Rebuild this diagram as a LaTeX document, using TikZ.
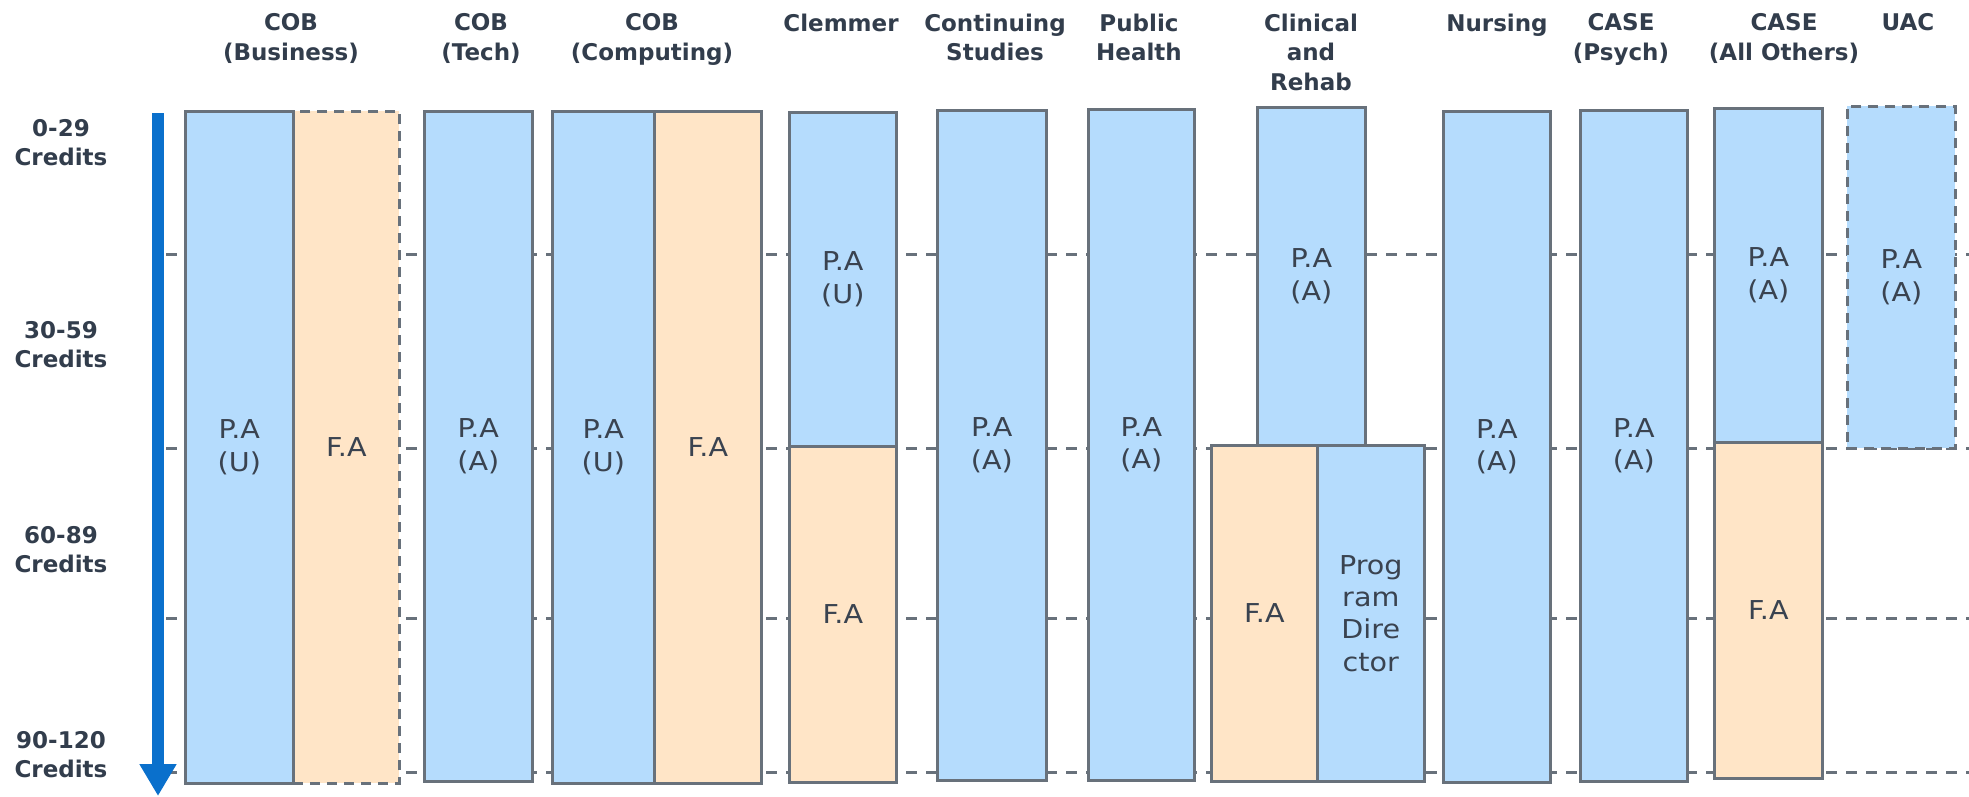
\documentclass[tikz,border=0pt]{standalone}
\usepackage{fontspec}
\setmainfont{DejaVu Sans}
\newfontfamily\cellfont[FakeStretch=1.1]{DejaVu Sans}
\usetikzlibrary{arrows.meta}

\definecolor{paBlue}{HTML}{B5DCFD}
\definecolor{faOrange}{HTML}{FFE5C7}
\definecolor{edgeGray}{HTML}{68717B}
\definecolor{inkDark}{HTML}{323D4C}
\definecolor{cellInk}{HTML}{3A4350}
\definecolor{flowBlue}{HTML}{0A70CC}

\tikzset{
  cell/.style={draw=edgeGray, line width=2.6pt, inner sep=0pt, anchor=north west,
    align=center, text=cellInk, font=\cellfont\fontsize{26}{32.3}\selectfont},
  pacell/.style={cell, fill=paBlue},
  facell/.style={cell, fill=faOrange},
  optcell/.style={dash pattern=on 10pt off 7pt},
  head/.style={anchor=north, align=center, inner sep=0pt, text=inkDark,
    font=\fontsize{23}{29.5}\selectfont\bfseries},
  rowlabel/.style={head, font=\fontsize{23}{28.5}\selectfont\bfseries},
  rowline/.style={draw=edgeGray, line width=3pt,
    dash pattern=on 10.5pt off 9.5pt, dash phase=14pt},
  flow/.style={draw=flowBlue, line width=12pt,
    -{Triangle[width=35pt,length=32pt]}, color=flowBlue},
}

\begin{document}
\begin{tikzpicture}[x=1pt, y=-1pt]
\useasboundingbox (0,0) rectangle (1969,796);

% credit band separators
\foreach \yy/\nm in {254/a, 448/b, 618/c, 772/d}{
  \coordinate (\nm L) at (160,\yy);
  \coordinate (\nm R) at (1969,\yy);
  \draw[rowline] (\nm L) -- (\nm R);
}

% progression arrow
\coordinate (flowTop) at (158,113);
\coordinate (flowEnd) at (158,796);
\draw[flow] (flowTop) -- (flowEnd);

% row labels
\node[rowlabel] (r1) at (61,119.6) {0-29\\Credits};
\node[rowlabel] (r2) at (61,321.6) {30-59\\Credits};
\node[rowlabel] (r3) at (61,526.6) {60-89\\Credits};
\node[rowlabel] (r4) at (61,731.6) {90-120\\Credits};

% column headers
\node[head] (hBus)   at (291,13.5)  {COB\\(Business)};
\node[head] (hTech)  at (481,13.5)  {COB\\(Tech)};
\node[head] (hComp)  at (652,13.5)  {COB\\(Computing)};
\node[head] (hClem)  at (841,13.5)  {Clemmer};
\node[head] (hCont)  at (995,13.5)  {Continuing\\Studies};
\node[head] (hPub)   at (1139,13.5) {Public\\Health};
\node[head] (hClin)  at (1311,13.5) {Clinical\\and\\Rehab};
\node[head] (hNurs)  at (1497,13.5) {Nursing};
\node[head] (hPsych) at (1621,13.5) {CASE\\(Psych)};
\node[head] (hCase)  at (1784,13.5) {CASE\\(All Others)};
\node[head] (hUAC)   at (1908,13.5) {UAC};

% COB (Business)
\node[facell, optcell, minimum width=106pt, minimum height=672pt] (busFA) at (292,110) {F.A};
\node[pacell, minimum width=108pt, minimum height=672pt] (busPA) at (184,110) {P.A\\(U)};
% COB (Tech)
\node[pacell, minimum width=108pt, minimum height=670pt] (techPA) at (423,110) {P.A\\(A)};
% COB (Computing)
\node[pacell, minimum width=102pt, minimum height=672pt] (compPA) at (551,110) {P.A\\(U)};
\node[facell, minimum width=107pt, minimum height=672pt] (compFA) at (653,110) {F.A};
% Clemmer
\node[pacell, minimum width=107pt, minimum height=334pt] (clemPA) at (788,111) {P.A\\(U)};
\node[facell, minimum width=107pt, minimum height=336pt] (clemFA) at (788,445) {F.A};
% Continuing Studies
\node[pacell, minimum width=109pt, minimum height=670pt] (contPA) at (936,109) {P.A\\(A)};
% Public Health
\node[pacell, minimum width=106pt, minimum height=671pt] (pubPA) at (1087,108) {P.A\\(A)};
% Clinical and Rehab
\node[pacell, minimum width=108pt, minimum height=338pt] (clinPA) at (1256,106) {P.A\\(A)};
\node[facell, minimum width=106pt, minimum height=336pt] (clinFA) at (1210,444) {F.A};
\node[pacell, minimum width=107pt, minimum height=336pt] (clinPD) at (1316,444) {Prog\\ram\\Dire\\ctor};
% Nursing
\node[pacell, minimum width=107pt, minimum height=671pt] (nursPA) at (1442,110) {P.A\\(A)};
% CASE (Psych)
\node[pacell, minimum width=107pt, minimum height=671pt] (psyPA) at (1579,109) {P.A\\(A)};
% CASE (All Others)
\node[pacell, minimum width=108pt, minimum height=334pt] (casePA) at (1713,107) {P.A\\(A)};
\node[facell, minimum width=108pt, minimum height=336pt] (caseFA) at (1713,441) {F.A};
% UAC
\node[pacell, optcell, minimum width=108pt, minimum height=342pt] (uacPA) at (1846,105) {P.A\\(A)};

\end{tikzpicture}
\end{document}
